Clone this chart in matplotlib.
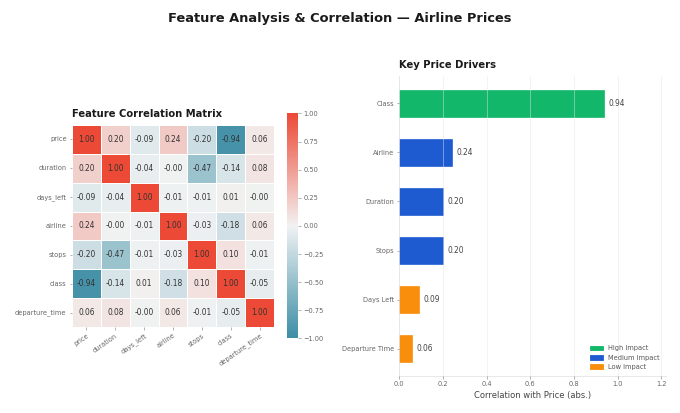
import numpy as np
import pandas as pd
import matplotlib
matplotlib.use("Agg")
import matplotlib.pyplot as plt
import seaborn as sns
from matplotlib.patches import Patch

# ---- data ----
features = ["price", "duration", "days_left", "airline", "stops", "class", "departure_time"]
corr_values = [
    [1.00, 0.20, -0.09, 0.24, -0.20, -0.94, 0.06],
    [0.20, 1.00, -0.04, -0.004, -0.47, -0.14, 0.08],
    [-0.09, -0.04, 1.00, -0.01, -0.01, 0.01, -0.003],
    [0.24, -0.004, -0.01, 1.00, -0.03, -0.18, 0.06],
    [-0.20, -0.47, -0.01, -0.03, 1.00, 0.10, -0.01],
    [-0.94, -0.14, 0.01, -0.18, 0.10, 1.00, -0.05],
    [0.06, 0.08, -0.003, 0.06, -0.01, -0.05, 1.00],
]
drivers = ["Class", "Airline", "Duration", "Stops", "Days Left", "Departure Time"]
driver_values = [0.94, 0.24, 0.20, 0.20, 0.09, 0.06]
impact_labels = ["High Impact", "Medium Impact", "Low Impact"]
impact_colors = ["#12b76a", "#1f5bd0", "#f88e0b"]

corr = pd.DataFrame(corr_values, index=features, columns=features)

DPI = 60
fig = plt.figure(figsize=(680 / DPI, 413 / DPI), dpi=DPI)
fig.suptitle("Feature Analysis & Correlation — Airline Prices", fontsize=15.6,
             fontweight="bold", y=0.956, va="center", color="#1a1a1a")

tick_col = "#666666"

# ---- heatmap ----
ax1 = fig.add_axes([0.1059, 0.0896, 0.3713, 0.7264])
cmap = sns.diverging_palette(220, 15, s=82, l=55, as_cmap=True)
sns.heatmap(corr, ax=ax1, cmap=cmap, vmin=-1, vmax=1, center=0, annot=True, fmt=".2f",
            square=True, linewidths=1.2, linecolor="white",
            annot_kws={"fontsize": 9, "color": "#333333"},
            cbar_kws={"shrink": 0.75})
ax1.set_title("Feature Correlation Matrix", loc="left", fontsize=12, fontweight="bold",
              pad=10, color="#1a1a1a")
ax1.tick_params(axis="both", labelsize=8, colors=tick_col, length=3, width=0.6)
plt.setp(ax1.get_xticklabels(), rotation=35, ha="right", rotation_mode="anchor")
plt.setp(ax1.get_yticklabels(), rotation=0)
cbar = ax1.collections[0].colorbar
cbar.ax.tick_params(labelsize=8, colors=tick_col, length=3, width=0.6)
cbar.outline.set_visible(False)

# ---- bar chart ----
ax2 = fig.add_axes([0.5872, 0.0896, 0.3922, 0.7264])
def color_for(v):
    if v >= 0.5:
        return impact_colors[0]
    if v >= 0.15:
        return impact_colors[1]
    return impact_colors[2]
bar_colors = [color_for(v) for v in driver_values]
ypos = np.arange(len(drivers))
ax2.barh(ypos, driver_values, height=0.55, color=bar_colors, edgecolor=bar_colors,
         linewidth=0.8, zorder=2)
ax2.set_yticks(ypos)
ax2.set_yticklabels(drivers)
ax2.invert_yaxis()
ax2.set_xlim(0, max(driver_values) * 1.3)
ax2.set_xticks([0.0, 0.2, 0.4, 0.6, 0.8, 1.0, 1.2])
for y, v in zip(ypos, driver_values):
    ax2.text(v + 0.02, y, f"{v:.2f}", va="center", ha="left", fontsize=9, color="#444444")
ax2.grid(axis="x", color="#e6e6e6", alpha=0.6, linewidth=0.9, zorder=3)
ax2.set_axisbelow(False)
for s in ["top", "right"]:
    ax2.spines[s].set_visible(False)
for s in ["left", "bottom"]:
    ax2.spines[s].set_color("#dddddd")
    ax2.spines[s].set_linewidth(0.8)
ax2.tick_params(axis="both", labelsize=8, colors=tick_col, length=3, width=0.6)
ax2.set_xlabel("Correlation with Price (abs.)", fontsize=10, color="#444444")
ax2.set_title("Key Price Drivers", loc="left", fontsize=12, fontweight="bold",
              pad=10, color="#1a1a1a")
handles = [Patch(facecolor=c, edgecolor=c, label=l) for c, l in zip(impact_colors, impact_labels)]
leg = ax2.legend(handles=handles, loc="lower right", frameon=False, fontsize=8)
for t in leg.get_texts():
    t.set_color("#555555")

fig.savefig("out.png", dpi=DPI)
